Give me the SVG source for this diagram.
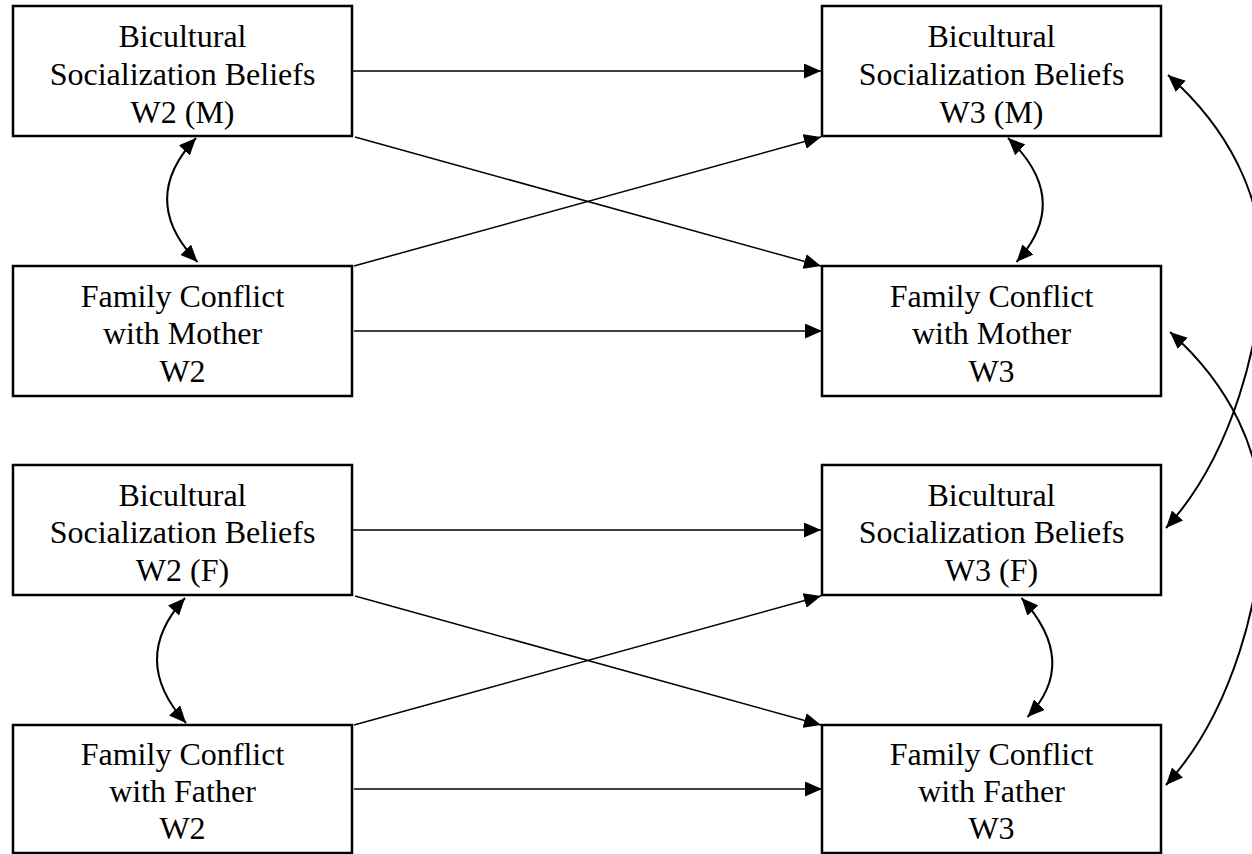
<svg xmlns="http://www.w3.org/2000/svg" width="1252" height="854" viewBox="0 0 1252 854">
  <style>
    .box { fill: #ffffff; stroke: #000000; stroke-width: 2.5; }
    .lbl { font-family: "Liberation Serif", "Times New Roman", serif; font-size: 32px; fill: #000000; text-anchor: middle; }
    .path { fill: none; stroke: #000000; stroke-width: 1.5; }
    .cov { fill: none; stroke: #000000; stroke-width: 2; }
  </style>
  <defs>
    <marker id="ah" viewBox="0 0 17 15" refX="17" refY="7.5" markerWidth="17" markerHeight="15" markerUnits="userSpaceOnUse" orient="auto-start-reverse">
      <path d="M0,0 L17,7.5 L0,15 z" fill="#000000"/>
    </marker>
  </defs>
  <rect width="1252" height="854" fill="#ffffff"/>

  <g id="connectors">
    <!-- regression paths, mother block -->
    <line class="path" x1="353" y1="71" x2="821" y2="71" marker-end="url(#ah)"/>
    <line class="path" x1="355" y1="137" x2="821" y2="266" marker-end="url(#ah)"/>
    <line class="path" x1="354" y1="266" x2="821" y2="137" marker-end="url(#ah)"/>
    <line class="path" x1="354" y1="331" x2="822" y2="331" marker-end="url(#ah)"/>
    <!-- regression paths, father block -->
    <line class="path" x1="353" y1="530" x2="821" y2="530" marker-end="url(#ah)"/>
    <line class="path" x1="355" y1="596" x2="821" y2="725" marker-end="url(#ah)"/>
    <line class="path" x1="354" y1="725" x2="821" y2="596" marker-end="url(#ah)"/>
    <line class="path" x1="354" y1="789" x2="822" y2="789" marker-end="url(#ah)"/>
    <!-- covariances -->
    <path class="cov" d="M196,138 Q137.5,200 197.5,262" marker-start="url(#ah)" marker-end="url(#ah)"/>
    <path class="cov" d="M185,598 Q128.5,659.5 186,723" marker-start="url(#ah)" marker-end="url(#ah)"/>
    <path class="cov" d="M1008,138 Q1073,200 1016.5,262" marker-start="url(#ah)" marker-end="url(#ah)"/>
    <path class="cov" d="M1021.5,598 Q1080,662.5 1027.5,717" marker-start="url(#ah)" marker-end="url(#ah)"/>
    <path class="cov" d="M1168,75 C1228,128 1262,195 1262,265 C1262,335 1234,454 1166,528" marker-start="url(#ah)" marker-end="url(#ah)"/>
    <path class="cov" d="M1170,332 C1230,385 1262,452 1262,522 C1262,592 1234,711 1166,785" marker-start="url(#ah)" marker-end="url(#ah)"/>
  </g>

  <g id="bsb_w2_m">
    <rect class="box" x="13" y="6" width="339" height="130"/>
    <text class="lbl" x="182.5" y="47">Bicultural</text>
    <text class="lbl" x="182.5" y="84.5">Socialization Beliefs</text>
    <text class="lbl" x="182.5" y="123">W2 (M)</text>
  </g>
  <g id="fcm_w2">
    <rect class="box" x="13" y="266" width="339" height="130"/>
    <text class="lbl" x="182.5" y="306.5">Family Conflict</text>
    <text class="lbl" x="182.5" y="344">with Mother</text>
    <text class="lbl" x="182.5" y="382">W2</text>
  </g>
  <g id="bsb_w2_f">
    <rect class="box" x="13" y="465" width="339" height="130"/>
    <text class="lbl" x="182.5" y="505.5">Bicultural</text>
    <text class="lbl" x="182.5" y="543">Socialization Beliefs</text>
    <text class="lbl" x="182.5" y="581">W2 (F)</text>
  </g>
  <g id="fcf_w2">
    <rect class="box" x="13" y="725" width="339" height="128"/>
    <text class="lbl" x="182.5" y="765">Family Conflict</text>
    <text class="lbl" x="182.5" y="802">with Father</text>
    <text class="lbl" x="182.5" y="839">W2</text>
  </g>

  <g id="bsb_w3_m">
    <rect class="box" x="822" y="6" width="339" height="130"/>
    <text class="lbl" x="991.5" y="47">Bicultural</text>
    <text class="lbl" x="991.5" y="84.5">Socialization Beliefs</text>
    <text class="lbl" x="991.5" y="123">W3 (M)</text>
  </g>
  <g id="fcm_w3">
    <rect class="box" x="822" y="266" width="339" height="130"/>
    <text class="lbl" x="991.5" y="306.5">Family Conflict</text>
    <text class="lbl" x="991.5" y="344">with Mother</text>
    <text class="lbl" x="991.5" y="382">W3</text>
  </g>
  <g id="bsb_w3_f">
    <rect class="box" x="822" y="465" width="339" height="130"/>
    <text class="lbl" x="991.5" y="505.5">Bicultural</text>
    <text class="lbl" x="991.5" y="543">Socialization Beliefs</text>
    <text class="lbl" x="991.5" y="581">W3 (F)</text>
  </g>
  <g id="fcf_w3">
    <rect class="box" x="822" y="725" width="339" height="128"/>
    <text class="lbl" x="991.5" y="765">Family Conflict</text>
    <text class="lbl" x="991.5" y="802">with Father</text>
    <text class="lbl" x="991.5" y="839">W3</text>
  </g>
</svg>
